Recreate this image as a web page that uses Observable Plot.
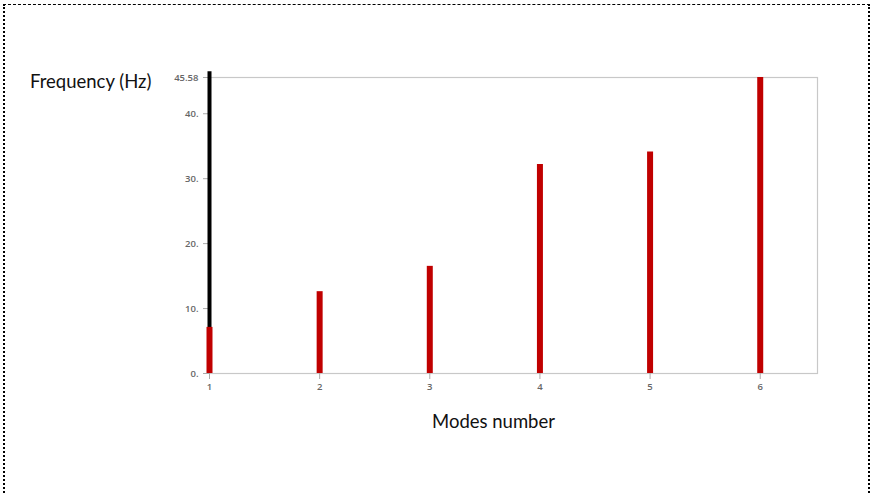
<!DOCTYPE html>
<html>
<head>
<meta charset="utf-8">
<script src="https://cdn.jsdelivr.net/npm/d3@7"></script>
<script src="https://cdn.jsdelivr.net/npm/@observablehq/plot@0.6"></script>
<style>
  html, body { margin: 0; padding: 0; background: #fff; }
  #wrap { position: relative; width: 873px; height: 493px; overflow: hidden; }
  #border { position: absolute; left: 3px; top: 4px; width: 863px; height: 500px;
            border-top: 1px dashed #000; border-left: 2px dotted #000; border-right: 2px dotted #000; }
  .lab { position: absolute; font-family: Lato, "Open Sans", sans-serif; font-size: 18.5px; color: #111; white-space: nowrap; }
  #chart { position: absolute; left: 0; top: 0; }
</style>
</head>
<body>
<div id="wrap">
  <div id="border"></div>
  <div id="chart"></div>
  <div class="lab" id="ylab" style="left:30px; top:70px;">Frequency (Hz)</div>
  <div class="lab" id="xlab" style="left:432px; top:410px;">Modes number</div>
</div>
<script>
const modes = [1, 2, 3, 4, 5, 6];
const frequencies = [7.1, 12.6, 16.5, 32.2, 34.1, 45.58];
const yTicks = [0, 10, 20, 30, 40, 45.58];
const yTickLabels = ["0.", "10.", "20.", "30.", "40.", "45.58"];
const xTicks = [1, 2, 3, 4, 5, 6];
const markerMode = [1];
const markerTop = [46.45];

const data = modes.map((m, i) => ({mode: m, freq: frequencies[i]}));
const marker = markerMode.map((m, i) => ({mode: m, top: markerTop[i]}));

const chart = Plot.plot({
  width: 873,
  height: 493,
  marginLeft: 209,
  marginRight: 56,
  marginTop: 77,
  marginBottom: 120,
  style: {background: "transparent", fontFamily: "'Open Sans', sans-serif", fontSize: "9.5px", fontWeight: 600, color: "#666"},
  x: {domain: [1, 6.52], label: null},
  y: {domain: [0, 45.58], label: null},
  marks: [
    Plot.frame({stroke: "#c8c8c8", strokeWidth: 1.2}),
    Plot.axisX({ticks: xTicks, tickFormat: d => String(d), stroke: "#aaa", fill: "#666", label: null, tickSize: 6, tickPadding: 4}),
    Plot.axisY({ticks: yTicks, tickFormat: d => yTickLabels[yTicks.indexOf(d)], stroke: "#aaa", fill: "#666", label: null, tickSize: 6, tickPadding: 5}),
    Plot.ruleX(marker, {x: "mode", y1: 0, y2: "top", stroke: "#000", strokeWidth: 4}),
    Plot.ruleX(data, {x: "mode", y1: 0, y2: "freq", stroke: "#c00000", strokeWidth: 6})
  ]
});
document.getElementById("chart").appendChild(chart);
</script>
</body>
</html>
